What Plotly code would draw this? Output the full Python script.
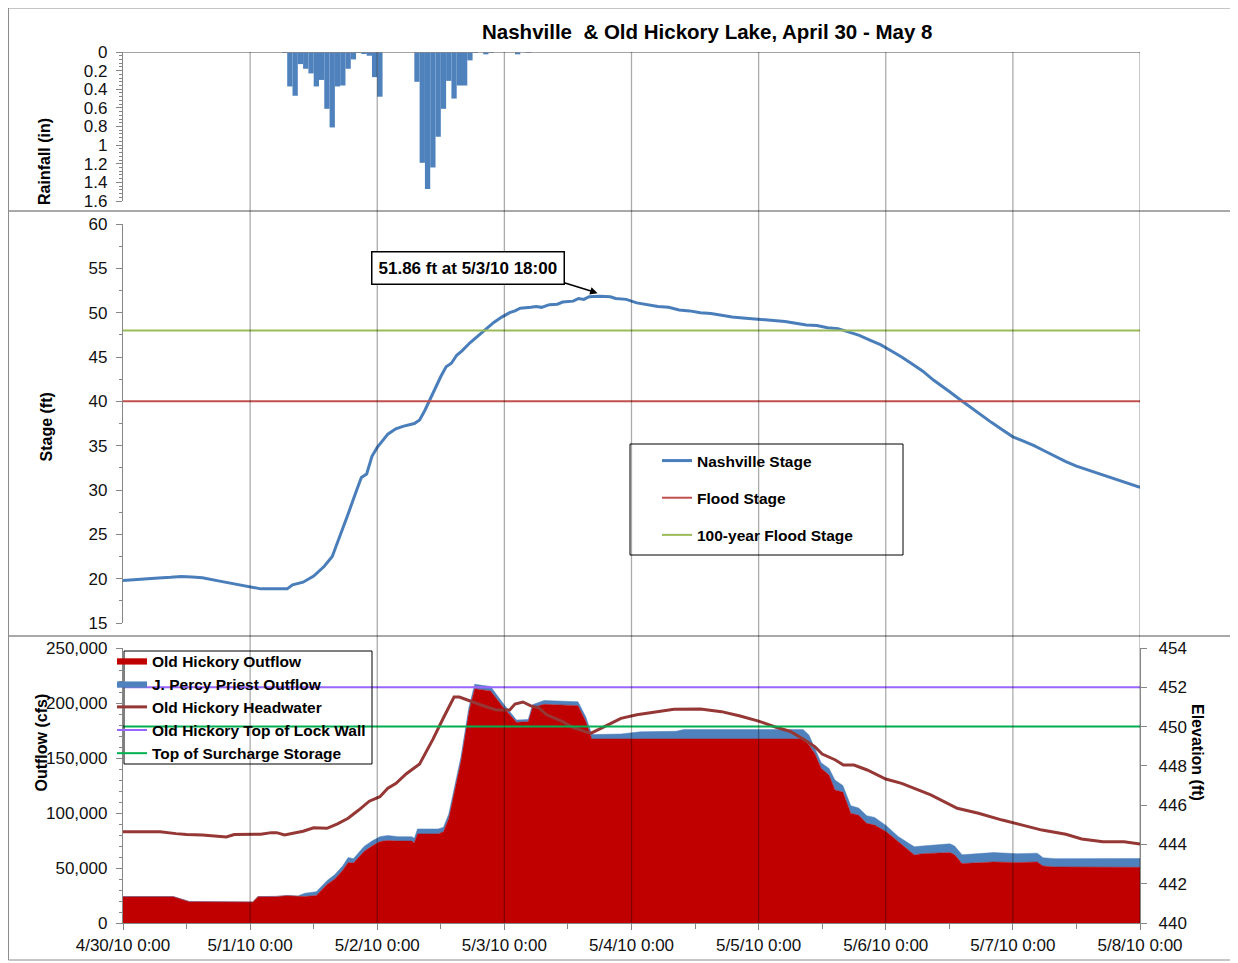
import pandas as pd
import plotly.graph_objects as go

# ---------------- data ----------------
T0 = pd.Timestamp("2010-04-30 00:00")

# hourly rainfall (hours after 4/30/10 0:00, inches)
RAIN_HOURS = [30, 31, 32, 33, 34, 35, 36, 37, 38, 39, 40, 41, 42, 43, 44, 45, 46, 47, 48,
              55, 56, 57, 58, 59, 60, 61, 62, 63, 64, 65, 66, 68, 69, 74, 76]
RAIN_IN = [0.01, 0.37, 0.47, 0.13, 0.18, 0.23, 0.37, 0.30, 0.61, 0.81, 0.37, 0.36, 0.18, 0.08,
           0.01, 0.015, 0.04, 0.27, 0.48,
           0.32, 1.19, 1.47, 1.24, 0.91, 0.61, 0.31, 0.50, 0.36, 0.36, 0.09, 0.005, 0.025, 0.01,
           0.025, 0.01]

# Nashville stage (ft)
STAGE_HOURS = [0, 3, 6, 9, 11, 13, 15, 18, 21, 24, 26, 28, 31, 32, 34, 36, 38, 39.5, 41, 42.5,
               44, 45, 46, 47, 48, 49, 50, 51.5, 53, 55, 56, 57, 58.5, 60, 61, 62, 63, 64, 65.5,
               67, 68.5, 70, 71.5, 73, 74, 75, 77, 78, 79, 80.5, 82, 83, 85, 86, 87, 88, 90, 92,
               93, 95, 97, 99, 101, 103, 105, 107, 109, 111, 113, 115, 117, 119, 121, 123, 125,
               127, 129, 131, 133, 135, 137, 139, 141, 143, 145, 147, 149, 151, 153, 154.5, 156,
               158, 160, 162, 164, 166, 168, 170, 172, 174, 176, 178, 180, 182, 184, 186, 188,
               190, 192]
STAGE_FT = [19.8, 19.95, 20.05, 20.15, 20.25, 20.2, 20.1, 19.75, 19.4, 19.05, 18.85, 18.85,
            18.85, 19.3, 19.6, 20.3, 21.4, 22.5, 24.8, 27.3, 29.8, 31.4, 31.8, 33.8, 34.8, 35.5,
            36.3, 36.9, 37.2, 37.5, 37.9, 39.0, 41.0, 42.8, 43.9, 44.3, 45.2, 45.7, 46.6, 47.4,
            48.2, 48.9, 49.5, 50.0, 50.2, 50.5, 50.6, 50.7, 50.6, 50.9, 50.95, 51.2, 51.3, 51.6,
            51.5, 51.8, 51.86, 51.8, 51.6, 51.5, 51.1, 50.9, 50.7, 50.6, 50.3, 50.2, 50.0, 49.9,
            49.7, 49.5, 49.4, 49.3, 49.25, 49.1, 49.0, 48.8, 48.6, 48.55, 48.3, 48.2, 47.85,
            47.45, 46.9, 46.4, 45.7, 45.0, 44.2, 43.4, 42.4, 41.7, 41.1, 40.2, 39.3, 38.5, 37.6,
            36.8, 36.0, 35.5, 35.0, 34.4, 33.8, 33.2, 32.7, 32.3, 31.9, 31.5, 31.1, 30.7, 30.3]
FLOOD_STAGE_FT = 40
HUNDRED_YEAR_STAGE_FT = 48

# outflows (cfs)
OUT_HOURS = [0, 9.5, 12.5, 24.5, 25.5, 29, 31, 33, 34.3, 36.5, 38.5, 40, 41.5, 42.5, 43.5, 45.5,
             47, 48.5, 50, 52, 54.5, 55, 55.6, 59.5, 60.5, 61.5, 62.3, 63.8, 65.3, 66.4, 69.4,
             71.7, 74.3, 76.5, 77.3, 79.5, 85.9, 87.4, 88.5, 94, 97.7, 104.4, 105.9, 128.4,
             129.5, 130.6, 131.8, 133.3, 134.4, 135.9, 137.4, 138.9, 140.4, 141.9, 144.1, 146.4,
             149.4, 150.9, 156.1, 157, 158.4, 164.3, 168.9, 172.6, 173.7, 176, 192]
OLD_HICKORY_CFS = [24000, 24000, 19500, 19200, 24000, 24200, 25000, 24000, 24000, 25000, 35000,
                   40000, 48000, 55000, 54500, 65000, 70000, 74000, 75000, 74500, 74500, 73000,
                   81000, 81000, 83000, 95000, 113000, 147000, 192000, 213000, 211000, 196500,
                   182500, 183000, 196000, 198800, 197600, 183000, 167300, 167300, 167300,
                   167300, 167300, 167300, 161800, 154200, 140600, 134500, 121000, 119000,
                   99700, 98000, 90600, 89000, 83000, 74000, 61800, 63000, 64000, 62000, 54000,
                   55500, 55000, 55500, 51800, 51000, 50600]
PERCY_PRIEST_CFS = [0, 0, 0, 0, 0, 0, 0, 500, 3000, 3500, 3500, 4000, 4000, 4500, 4000, 4500,
                    4500, 4500, 4500, 4000, 4000, 4000, 4500, 4500, 4000, 4000, 4000, 4000, 4000,
                    4000, 4000, 3500, 2000, 2000, 2500, 3500, 3500, 4000, 4000, 4500, 6500, 7000,
                    8500, 8500, 9000, 5000, 5000, 6000, 9000, 6000, 7000, 6500, 7000, 7000, 5500,
                    4500, 7500, 7000, 8000, 8000, 8000, 8500, 8000, 8000, 7500, 7500, 8000]

# Old Hickory headwater elevation (ft)
HW_HOURS = [0, 7, 10, 12, 15, 17, 19.5, 21, 24, 26, 28, 29, 30.5, 32, 34, 36, 38.5, 40.5, 42.5,
            44.5, 46.5, 48.5, 50, 51.5, 53.5, 56, 57, 58.5, 60.5, 62.5, 63.5, 65, 68, 70.5, 73,
            74, 75.5, 77, 78.5, 80, 83, 85, 87.5, 88.3, 90.5, 94, 97, 100, 104, 109, 113, 116.5,
            120, 123, 126, 129, 130.6, 132, 134.5, 136, 138, 140.5, 144, 147, 152.5, 157.5,
            161.5, 166, 169, 173.5, 178, 181, 185, 189, 192]
HEADWATER_FT = [444.65, 444.65, 444.55, 444.5, 444.48, 444.45, 444.38, 444.5, 444.5, 444.52,
                444.6, 444.6, 444.48, 444.55, 444.67, 444.85, 444.82, 445.05, 445.33, 445.75,
                446.2, 446.43, 446.86, 447.1, 447.6, 448.1, 448.6, 449.35, 450.45, 451.5, 451.5,
                451.35, 451.06, 450.85, 450.85, 451.15, 451.25, 451.05, 450.95, 450.6, 450.25,
                449.95, 449.75, 449.65, 449.95, 450.42, 450.6, 450.73, 450.88, 450.9, 450.76,
                450.54, 450.28, 449.99, 449.75, 449.27, 448.98, 448.6, 448.3, 448.04, 448.04,
                447.79, 447.33, 447.11, 446.52, 445.84, 445.59, 445.24, 445.04, 444.73, 444.52,
                444.28, 444.14, 444.14, 444.02]
LOCK_WALL_FT = 452
SURCHARGE_FT = 450

DAY_LABELS = ["4/30/10 0:00", "5/1/10 0:00", "5/2/10 0:00", "5/3/10 0:00", "5/4/10 0:00",
              "5/5/10 0:00", "5/6/10 0:00", "5/7/10 0:00", "5/8/10 0:00"]
RAIN_TICKS = [0, 0.2, 0.4, 0.6, 0.8, 1, 1.2, 1.4, 1.6]

# ---------------- helpers ----------------
# the page body adds an 8px margin, so the figure is placed 8px in from the window corner
OFF = 8
W, H = 1228, 953


def t(hours):
    return [(T0 + pd.Timedelta(hours=h)).strftime("%Y-%m-%d %H:%M:%S") for h in hours]


def px(p):
    return (p - OFF) / W


def py(p):
    return 1 - (p - OFF) / H


X_START, X_END = t([0, 192])
DAYS = t([24 * i for i in range(len(DAY_LABELS))])

FONT = "Liberation Sans"
AX = "#868686"
TICKFONT = dict(family=FONT, size=17, color="#111111")

fig = go.Figure()

# rainfall
fig.add_trace(go.Bar(x=t(RAIN_HOURS), y=RAIN_IN, width=3600000, offset=0,
                     marker=dict(color="#4F81BD", line=dict(width=0)),
                     xaxis="x", yaxis="y", showlegend=False, name="Rainfall"))

# stage
fig.add_trace(go.Scatter(x=t(STAGE_HOURS), y=STAGE_FT, mode="lines", name="Nashville Stage",
                         line=dict(color="#4A7EBB", width=3), yaxis="y2",
                         legend="legend", legendgroup="a"))
fig.add_trace(go.Scatter(x=[X_START, X_END], y=[FLOOD_STAGE_FT] * 2, mode="lines",
                         name="Flood Stage", line=dict(color="#C0504D", width=2), yaxis="y2",
                         legend="legend", legendgroup="b"))
fig.add_trace(go.Scatter(x=[X_START, X_END], y=[HUNDRED_YEAR_STAGE_FT] * 2, mode="lines",
                         name="100-year Flood Stage", line=dict(color="#9BBB59", width=2),
                         yaxis="y2", legend="legend", legendgroup="c"))

# outflows
fig.add_trace(go.Scatter(x=t(OUT_HOURS), y=OLD_HICKORY_CFS, mode="lines", stackgroup="q",
                         name="Old Hickory Outflow", fillcolor="#C00000",
                         line=dict(color="#C00000", width=0.5), yaxis="y3",
                         legend="legend2", legendgroup="d"))
fig.add_trace(go.Scatter(x=t(OUT_HOURS), y=PERCY_PRIEST_CFS, mode="lines", stackgroup="q",
                         name="J. Percy Priest Outflow", fillcolor="#4F81BD",
                         line=dict(color="#4F81BD", width=0.5), yaxis="y3",
                         legend="legend2", legendgroup="e"))
fig.add_trace(go.Scatter(x=t(HW_HOURS), y=HEADWATER_FT, mode="lines",
                         name="Old Hickory Headwater", line=dict(color="#953735", width=3),
                         yaxis="y4", legend="legend2", legendgroup="f"))
fig.add_trace(go.Scatter(x=[X_START, X_END], y=[LOCK_WALL_FT] * 2, mode="lines",
                         name="Old Hickory Top of Lock Wall",
                         line=dict(color="#9966FF", width=2), yaxis="y4",
                         legend="legend2", legendgroup="g"))
fig.add_trace(go.Scatter(x=[X_START, X_END], y=[SURCHARGE_FT] * 2, mode="lines",
                         name="Top of Surcharge Storage", line=dict(color="#00B050", width=2),
                         yaxis="y4", legend="legend2", legendgroup="h"))

# ---------------- shapes ----------------
shapes = []
# panel borders
for top, bot in [(8, 211), (211, 636), (636, 960)]:
    shapes.append(dict(type="rect", xref="paper", yref="paper", x0=px(8.5), x1=px(1234),
                       y0=py(bot), y1=py(top), line=dict(color="#8c8c8c", width=1),
                       layer="below"))
# rainfall zero line
shapes.append(dict(type="line", xref="x", yref="y", x0=X_START, x1=X_END, y0=0, y1=0,
                   line=dict(color=AX, width=1.3)))
# vertical day grid lines through all three panels
for d in DAYS[1:]:
    shapes.append(dict(type="line", xref="x", yref="paper", x0=d, x1=d, y0=py(923), y1=py(52),
                       line=dict(color="rgba(0,0,0,0.33)", width=1.3), layer="above"))
# legend boxes
shapes.append(dict(type="rect", xref="paper", yref="paper", x0=px(630), x1=px(903),
                   y0=py(555), y1=py(444), line=dict(color="black", width=1)))
shapes.append(dict(type="rect", xref="paper", yref="paper", x0=px(124), x1=px(372),
                   y0=py(764), y1=py(651), line=dict(color="black", width=1)))

# ---------------- annotations ----------------
ann = [
    dict(text="<b>Nashville  &amp; Old Hickory Lake, April 30 - May 8</b>", xref="paper",
         yref="paper", x=px(707), y=py(31), showarrow=False, xanchor="center",
         yanchor="middle", font=dict(family=FONT, size=20.5, color="black")),
    dict(text="<b>Rainfall (in)</b>", xref="paper", yref="paper", x=px(34), y=py(116),
         textangle=-90, showarrow=False, font=dict(family=FONT, size=16, color="black")),
    dict(text="<b>Stage (ft)</b>", xref="paper", yref="paper", x=px(35), y=py(427),
         textangle=-90, showarrow=False, font=dict(family=FONT, size=16, color="black")),
    dict(text="<b>Outflow (cfs)</b>", xref="paper", yref="paper", x=px(30), y=py(794),
         textangle=-90, showarrow=False, font=dict(family=FONT, size=16, color="black")),
    dict(text="<b>Elevation (ft)</b>", xref="paper", yref="paper", x=px(1208), y=py(803),
         textangle=90, showarrow=False, font=dict(family=FONT, size=16, color="black")),
    dict(text="", x=t([89.6])[0], y=52.2, xref="x", yref="y2", ax=t([65.3])[0], ay=56.7,
         axref="x", ayref="y2", showarrow=True, arrowhead=2, arrowsize=1, arrowwidth=1.5,
         arrowcolor="black"),
    dict(text="<b>51.86 ft at 5/3/10 18:00</b>", xref="paper", yref="paper", x=px(370.5),
         y=py(251.3), showarrow=False, bordercolor="black", borderwidth=1.5, borderpad=6,
         bgcolor="white", font=dict(family=FONT, size=17, color="black")),
]

axis_common = dict(showline=True, linecolor=AX, linewidth=1.3, ticks="outside", tickcolor=AX,
                   ticklen=6, tickwidth=1.3, showgrid=False, zeroline=False, tickfont=TICKFONT)

LEGFONT = dict(family=FONT, size=15.5, color="black", weight="bold")

fig.update_layout(
    width=W, height=H, autosize=False,
    margin=dict(l=0, r=0, t=0, b=0, pad=0, autoexpand=False),
    paper_bgcolor="white", plot_bgcolor="rgba(0,0,0,0)",
    showlegend=True,
    xaxis=dict(domain=[px(123), px(1140)], range=[X_START, X_END], anchor="y3", type="date",
               tickmode="array", tickvals=DAYS, ticktext=DAY_LABELS,
               minor=dict(dtick=12 * 3600 * 1000, ticks="outside", ticklen=5, tickcolor=AX,
                          showgrid=False),
               **axis_common),
    yaxis=dict(domain=[py(201), py(52)], range=[1.6, 0], anchor="x", tickmode="array",
               tickvals=RAIN_TICKS, minor=dict(dtick=0.04, ticks="outside", ticklen=3,
                                               tickcolor=AX),
               ticklabelstandoff=5, **axis_common),
    yaxis2=dict(domain=[py(623), py(224)], range=[15, 60], anchor="x", dtick=5, tick0=0,
                minor=dict(dtick=2.5, ticks="outside", ticklen=3, tickcolor=AX),
                ticklabelstandoff=5, **axis_common),
    yaxis3=dict(domain=[py(923), py(648)], range=[0, 250000], anchor="x", dtick=50000,
                tickformat=",d", minor=dict(dtick=10000, ticks="outside", ticklen=3,
                                            tickcolor=AX),
                ticklabelstandoff=5, **axis_common),
    yaxis4=dict(overlaying="y3", side="right", range=[440, 454], anchor="x", dtick=2,
                ticklabelstandoff=8, **axis_common),
    legend=dict(x=px(657), y=py(444), xanchor="left", yanchor="top",
                bgcolor="rgba(0,0,0,0)", borderwidth=0, font=LEGFONT,
                traceorder="grouped", tracegroupgap=14, itemwidth=30),
    legend2=dict(x=px(112), y=py(644), xanchor="left", yanchor="top",
                 bgcolor="rgba(0,0,0,0)", borderwidth=0, font=LEGFONT,
                 traceorder="grouped", tracegroupgap=0, itemwidth=30),
    shapes=shapes, annotations=ann,
)

fig.write_html("out.html")
